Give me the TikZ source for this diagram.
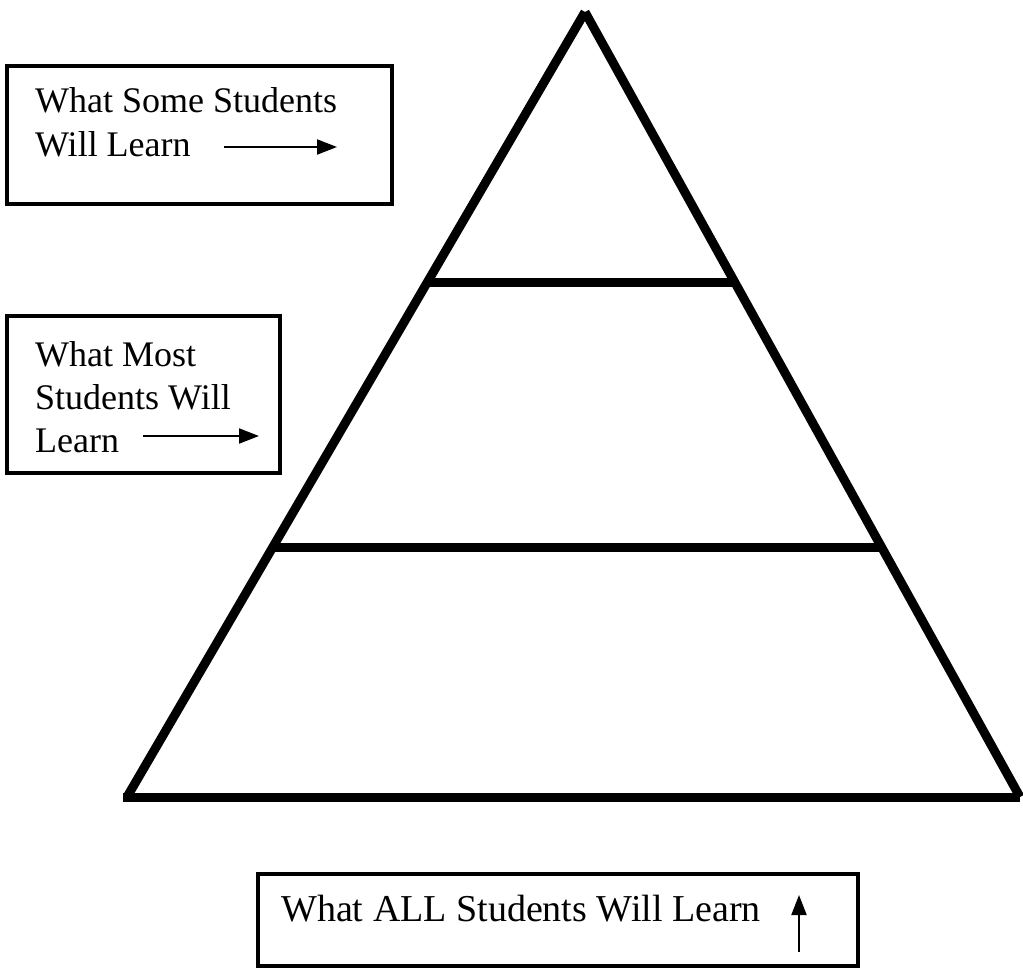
\documentclass[tikz,border=0pt]{standalone}
\usepackage{fontspec}
\setmainfont{Liberation Serif}
\usetikzlibrary{calc,arrows.meta}

\tikzset{
  side/.style={line width=9pt, line cap=butt},
  labelbox/.style={draw, line width=4.5pt},
  labeltext/.style={anchor=base west, inner sep=0pt, font=\fontsize{36}{43}\selectfont},
  pointer/.style={line width=2pt, -{Triangle[length=20pt,width=15pt]}}
}

\begin{document}
\begin{tikzpicture}[x=1pt,y=-1pt]
  \useasboundingbox (0,0) rectangle (1023,969);

  % pyramid
  \coordinate (apex) at (585,12);
  \coordinate (bl)   at (127,797);
  \coordinate (br)   at (1020,797);

  \draw[side] (apex) -- (bl);
  \draw[side] (apex) -- (br);
  \draw[side] ($(bl)+(-4,0)$) -- (br);

  \coordinate (l1) at ($(apex)!0.344!(bl)$);
  \coordinate (r1) at ($(apex)!0.344!(br)$);
  \coordinate (l2) at ($(apex)!0.682!(bl)$);
  \coordinate (r2) at ($(apex)!0.682!(br)$);
  \draw[side] (l1) -- (r1);
  \draw[side] (l2) -- (r2);

  % some students
  \draw[labelbox] (7,66) rectangle (392,204);
  \node[labeltext] (some1) at (35,112) {What Some Students};
  \node[labeltext] (some2) at (35,156) {Will Learn};
  \coordinate (s0) at (224,147);
  \coordinate (s1) at (337,147);
  \draw[pointer] (s0) -- (s1);

  % most students
  \draw[labelbox] (7,316) rectangle (280,473);
  \node[labeltext] (most1) at (35,366) {What Most};
  \node[labeltext] (most2) at (35,409) {Students Will};
  \node[labeltext] (most3) at (35,452) {Learn};
  \coordinate (m0) at (143,436);
  \coordinate (m1) at (259,436);
  \draw[pointer] (m0) -- (m1);

  % all students
  \draw[labelbox] (258,874) rectangle (858,966);
  \node[labeltext, font=\fontsize{38}{45}\selectfont] (all) at (281,921) {What ALL Students Will Learn};
  \coordinate (a0) at (799,952);
  \coordinate (a1) at (799,895);
  \draw[pointer] (a0) -- (a1);
\end{tikzpicture}
\end{document}
